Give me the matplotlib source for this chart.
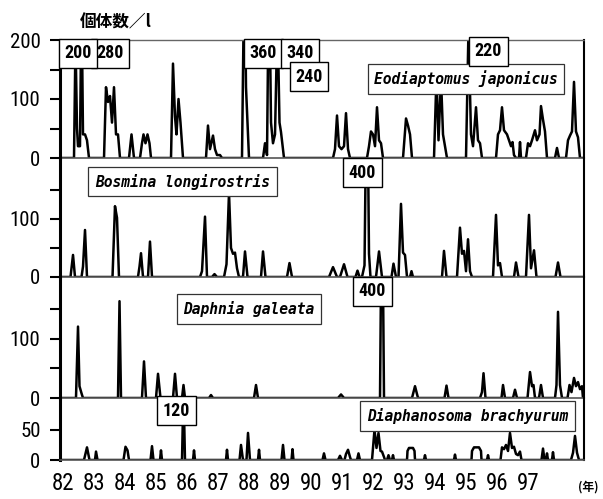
import matplotlib
matplotlib.use("Agg")
import matplotlib.pyplot as plt
import numpy as np
from matplotlib import font_manager
from matplotlib.font_manager import FontProperties

# ---------------------------------------------------------------------------
# Zooplankton densities (individuals per litre), Lake survey 1982-1998.
# Time is given in decimal years (82.5 = mid-1982).
# ---------------------------------------------------------------------------
eod_t = [82.0, 82.355, 82.403, 82.452, 82.484, 82.548, 82.597, 82.645, 82.710, 82.774, 82.839,
         83.323, 83.387, 83.452, 83.516, 83.581, 83.645, 83.710, 83.774, 83.839,
         84.129, 84.210, 84.290,
         84.484, 84.548, 84.597, 84.661, 84.726, 84.790, 84.839,
         85.484, 85.548, 85.613, 85.661, 85.726, 85.790, 85.871,
         86.613, 86.677, 86.742, 86.839, 86.903, 86.968, 87.065, 87.129,
         87.774, 87.855, 87.903, 87.952, 88.000,
         88.452, 88.516, 88.581, 88.645, 88.710, 88.774, 88.839, 88.919, 88.984, 89.032, 89.129,
         90.710, 90.774, 90.839, 90.903, 90.984, 91.065, 91.129, 91.194, 91.258,
         91.806, 91.871, 91.935, 92.000, 92.065, 92.129, 92.194, 92.258, 92.323,
         92.968, 93.065, 93.129, 93.194, 93.258,
         93.968, 94.048, 94.113, 94.194, 94.258, 94.323, 94.387,
         95.000, 95.081, 95.161, 95.226, 95.323, 95.387, 95.452, 95.516,
         95.968, 96.032, 96.097, 96.161, 96.226, 96.323, 96.387, 96.452, 96.500, 96.548, 96.613,
         96.710, 96.742, 96.774,
         96.935, 97.000, 97.065, 97.129, 97.226, 97.290, 97.371, 97.419, 97.484, 97.548, 97.613,
         97.871, 97.935, 98.000,
         98.226, 98.290, 98.355, 98.419, 98.484, 98.548, 98.613, 98.677, 98.80]
eod_n = [0, 0, 200, 50, 20, 20, 280, 40, 40, 30, 0,
         0, 120, 95, 105, 60, 120, 40, 40, 0,
         0, 40, 0,
         0, 25, 40, 25, 40, 25, 0,
         0, 160, 70, 40, 100, 60, 0,
         0, 55, 15, 38, 15, 5, 5, 0,
         0, 360, 120, 60, 0,
         0, 25, 5, 340, 60, 25, 40, 240, 60, 44, 0,
         0, 15, 72, 20, 15, 20, 76, 15, 0,
         0, 20, 45, 40, 20, 86, 30, 25, 0,
         0, 67, 55, 40, 0,
         0, 140, 30, 135, 40, 20, 0,
         0, 220, 40, 20, 86, 30, 25, 0,
         0, 40, 47, 86, 47, 40, 30, 20, 27, 5, 0,
         0, 27, 0,
         0, 25, 20, 30, 47, 30, 40, 88, 65, 45, 0,
         0, 17, 0,
         0, 30, 38, 45, 129, 45, 35, 0, 0]

bos_t = [82.0, 82.242, 82.323, 82.387, 82.597, 82.645, 82.710, 82.774,
         83.597, 83.677, 83.742, 83.806,
         84.419, 84.468, 84.516, 84.581, 84.742, 84.806, 84.871,
         86.419, 86.484, 86.581, 86.645, 86.806, 86.887, 86.968,
         87.194, 87.274, 87.355, 87.419, 87.484, 87.548, 87.613, 87.677,
         87.806, 87.871, 87.952, 88.387, 88.452, 88.532, 89.226, 89.306, 89.387,
         90.581, 90.710, 90.839, 90.935, 91.065, 91.177, 91.435, 91.500, 91.565,
         91.645, 91.726, 91.806, 91.871, 91.919,
         92.097, 92.194, 92.290, 92.597, 92.661, 92.742,
         92.823, 92.903, 92.968, 93.032, 93.097, 93.194, 93.242, 93.290,
         94.226, 94.290, 94.371,
         94.710, 94.806, 94.871, 94.935, 95.000, 95.065, 95.129, 95.194,
         95.871, 95.968, 96.032, 96.097, 96.161, 96.548, 96.613, 96.694,
         96.935, 97.032, 97.097, 97.194, 97.274, 97.887, 97.968, 98.048, 98.80]
bos_n = [0, 0, 38, 0, 0, 18, 81, 0,
         0, 122, 102, 0,
         0, 18, 41, 0, 0, 61, 0,
         0, 10, 104, 0, 0, 5, 0,
         0, 22, 145, 50, 40, 42, 15, 0,
         0, 44, 0, 0, 44, 0, 0, 24, 0,
         0, 17, 0, 0, 22, 0, 0, 11, 0,
         0, 20, 400, 40, 0,
         0, 44, 0, 0, 23, 0,
         0, 126, 42, 38, 0, 0, 10, 0,
         0, 45, 0,
         0, 85, 40, 45, 10, 65, 10, 0,
         0, 107, 20, 24, 0, 0, 25, 0,
         0, 107, 15, 46, 0, 0, 25, 0, 0]

dap_t = [82.0, 82.419, 82.484, 82.532, 82.597, 82.645,
         83.774, 83.823, 83.871, 84.548, 84.613, 84.677,
         85.000, 85.065, 85.145, 85.548, 85.613, 85.677, 85.839, 85.887, 85.935,
         86.710, 86.774, 86.839, 88.161, 88.226, 88.290, 90.871, 90.968, 91.065,
         92.226, 92.290, 92.355, 93.258, 93.355, 93.452, 94.306, 94.371, 94.435,
         95.452, 95.516, 95.565, 95.629, 96.145, 96.194, 96.258, 96.516, 96.581, 96.645,
         96.984, 97.065, 97.129, 97.177, 97.226, 97.355, 97.419, 97.484,
         97.871, 97.919, 97.968, 98.032, 98.097,
         98.274, 98.339, 98.403, 98.484, 98.548, 98.613, 98.677, 98.742, 98.774]
dap_n = [0, 0, 121, 20, 8, 0,
         0, 164, 0, 0, 62, 0,
         0, 41, 0, 0, 41, 0, 0, 22, 0,
         0, 5, 0, 0, 22, 0, 0, 6, 0,
         0, 400, 0, 0, 20, 0, 0, 21, 0,
         0, 10, 42, 0, 0, 22, 0, 0, 14, 0,
         0, 44, 20, 22, 0, 0, 22, 0,
         0, 22, 146, 22, 0,
         0, 22, 10, 34, 20, 27, 15, 20, 0]

dia_t = [82.0, 82.677, 82.774, 82.855, 83.032, 83.065, 83.113,
         83.952, 84.016, 84.081, 84.129, 84.823, 84.871, 84.919,
         85.129, 85.161, 85.194, 85.839, 85.887, 85.935, 86.194, 86.226, 86.258,
         87.258, 87.290, 87.323, 87.694, 87.742, 87.806, 87.919, 87.968, 88.032,
         88.290, 88.323, 88.355, 89.048, 89.097, 89.145, 89.371, 89.403, 89.435,
         90.371, 90.419, 90.468, 90.871, 90.935, 91.000,
         91.081, 91.129, 91.194, 91.258, 91.290, 91.484, 91.532, 91.581,
         91.968, 92.048, 92.113, 92.177, 92.242, 92.290, 92.355, 92.387,
         92.452, 92.500, 92.548, 92.613, 92.645, 92.677,
         93.097, 93.113, 93.161, 93.290, 93.339, 93.355, 93.645, 93.677, 93.710,
         94.613, 94.645, 94.677,
         95.177, 95.194, 95.258, 95.419, 95.484, 95.500, 95.677, 95.710, 95.742,
         96.113, 96.161, 96.226, 96.290, 96.355, 96.419, 96.484, 96.548, 96.613, 96.677,
         96.742, 96.790,
         97.435, 97.484, 97.532, 97.581, 97.613, 97.645, 97.774, 97.806, 97.839,
         98.387, 98.452, 98.516, 98.581, 98.645, 98.80]
dia_n = [0, 0, 21, 0, 0, 14, 0,
         0, 22, 16, 0, 0, 23, 0,
         0, 16, 0, 0, 120, 0, 0, 16, 0,
         0, 17, 0, 0, 25, 0, 0, 45, 0,
         0, 17, 0, 0, 25, 0, 0, 18, 0,
         0, 11, 0, 0, 7, 0,
         0, 10, 17, 5, 0, 0, 11, 0,
         0, 50, 20, 45, 15, 14, 5, 0,
         0, 8, 0, 0, 8, 0,
         0, 15, 20, 20, 15, 0, 0, 8, 0,
         0, 9, 0,
         0, 15, 21, 21, 15, 0, 0, 8, 0,
         0, 21, 18, 25, 15, 45, 20, 22, 10, 8,
         14, 0,
         0, 19, 0, 0, 11, 0, 0, 13, 0,
         0, 12, 40, 12, 0, 0]

species = ["Eodiaptomus japonicus", "Bosmina longirostris",
           "Daphnia galeata", "Diaphanosoma brachyurum"]
years = list(range(82, 98))
year_labels = ["82", "83", "84", "85", "86", "87", "88", "89",
               "90", "91", "92", "93", "94", "95", "96", "97"]

# times of off-scale peaks whose counts are written in boxes
eod_boxed = [82.597, 82.403, 87.855, 88.645, 88.919, 95.081]
bos_boxed = [91.806]
dap_boxed = [92.290]
dia_boxed = [85.887]


# ---------------------------------------------------------------------------
# fonts: a narrow sans for the numerals if one is installed
def _weight(w):
    if isinstance(w, (int, float)):
        return int(w)
    return {"bold": 700, "normal": 400, "regular": 400, "medium": 500,
            "semibold": 600, "light": 300, "heavy": 800, "black": 900}.get(str(w).lower(), 400)


def narrow_font(bold):
    order = ["Liberation Sans Narrow", "Roboto Condensed", "DejaVu Sans",
             "Noto Sans", "Open Sans", "Noto Sans Condensed", "Open Sans Condensed"]
    found = []
    for f in font_manager.fontManager.ttflist:
        st = str(f.stretch).lower()
        narrow = ("condensed" in st or "narrow" in f.name.lower()
                  or "condensed" in f.name.lower()
                  or "condensed" in f.fname.lower() or "narrow" in f.fname.lower())
        if not narrow or f.style != "normal":
            continue
        w = _weight(f.weight)
        if bold and w < 600:
            continue
        if not bold and not (350 <= w <= 500):
            continue
        rank = order.index(f.name) if f.name in order else len(order)
        found.append((rank, f.fname))
    if found:
        found.sort()
        return found[0][1]
    return None


NARROW_R = narrow_font(False)
NARROW_B = narrow_font(True) or NARROW_R
CJK = ["Noto Sans CJK JP", "DejaVu Sans"]
MONO = "DejaVu Sans Mono"


def numfont(size, bold=False):
    path = NARROW_B if bold else NARROW_R
    if path:
        return FontProperties(fname=path, size=size)
    # no narrow face available: plain sans, a little smaller
    return FontProperties(family="DejaVu Sans", size=size * 0.8,
                          weight="bold" if bold else "normal")


W, H = 603, 499
fig = plt.figure(figsize=(W / 100, H / 100), dpi=100)
fig.patch.set_facecolor("white")


def fx(px):
    return px / W


def fy(py):
    return 1 - py / H


X0, X1 = 60, 584
XLIM = (82 + (X0 - 63) / 31, 82 + (X1 - 63) / 31)

panels = [
    dict(t=eod_t, n=eod_n, top=40, bot=158, ylim=(0, 200), ticks=[0, 50, 100, 150, 200],
         labels=[0, 100, 200], name_c=(466, 79), boxed=eod_boxed,
         box_c=[(110, 53.5), (78, 53.5), (263.5, 53.5), (300, 53.5), (309, 76.5), (488.5, 51.5)]),
    dict(t=bos_t, n=bos_n, top=158, bot=277, ylim=(0, 205), ticks=[0, 50, 100, 150],
         labels=[0, 100], name_c=(182.5, 181.5), boxed=bos_boxed, box_c=[(362.5, 172.5)]),
    dict(t=dap_t, n=dap_n, top=277, bot=398, ylim=(0, 205), ticks=[0, 50, 100, 150],
         labels=[0, 100], name_c=(249, 309), boxed=dap_boxed, box_c=[(372.5, 291.5)]),
    dict(t=dia_t, n=dia_n, top=398, bot=460, ylim=(0, 103), ticks=[0, 50],
         labels=[0, 50], name_c=(467.5, 416), boxed=dia_boxed, box_c=[(176.5, 410.5)]),
]

ytick_fp = numfont(15)
xtick_fp = numfont(16.5)
box_fp = numfont(13, bold=True)

axes = []
for i, p in enumerate(panels):
    ax = fig.add_axes([fx(X0), fy(p["bot"]), fx(X1) - fx(X0), (p["bot"] - p["top"]) / H])
    ax.set_facecolor("none")
    ax.plot(p["t"], p["n"], color="black", lw=1.8, solid_joinstyle="round")
    ax.set_xlim(*XLIM)
    ax.set_ylim(*p["ylim"])
    ax.set_yticks(p["ticks"])
    ax.set_yticklabels([str(v) if v in p["labels"] else "" for v in p["ticks"]],
                       fontproperties=ytick_fp)
    ax.tick_params(axis="y", direction="out", length=7, width=1.5, pad=7, colors="black")
    for s in ax.spines.values():
        s.set_color("black")
    ax.spines["left"].set_linewidth(2.2)
    ax.spines["right"].set_linewidth(1.5)
    ax.spines["bottom"].set_linewidth(1.2)
    ax.spines["bottom"].set_color("#555555")
    if i == 0:
        ax.spines["top"].set_linewidth(1.0)
        ax.spines["top"].set_color("#666666")
        ax.spines["top"].set_linestyle((0, (1, 1)))
    else:
        ax.spines["top"].set_visible(False)
    if i < len(panels) - 1:
        ax.set_xticks([])
    else:
        ax.set_xticks(years)
        ax.set_xticklabels(year_labels, fontproperties=xtick_fp)
        ax.tick_params(axis="x", length=0, pad=9)
    axes.append(ax)

    # species name in a framed label
    cx, cy = p["name_c"]
    fig.text(fx(cx), fy(cy), species[i], ha="center", va="center",
             fontfamily=MONO, fontweight="bold", fontstyle="italic", fontsize=10.5,
             bbox=dict(boxstyle="square,pad=0.45", fc="white", ec="#333333", lw=0.9))

    # off-scale counts, boxed
    tarr = np.asarray(p["t"])
    for tb, (bx, by) in zip(p["boxed"], p["box_c"]):
        val = p["n"][int(np.argmin(np.abs(tarr - tb)))]
        fig.text(fx(bx), fy(by), f"{val}", ha="center", va="center",
                 fontproperties=box_fp,
                 bbox=dict(boxstyle="square,pad=0.3", fc="white", ec="black", lw=1.0))

fig.text(fx(80), fy(22), "個体数／l", ha="left", va="center",
         fontfamily=CJK, fontweight="bold", fontsize=12)
fig.text(fx(588), fy(487), "(年)", ha="center", va="center",
         fontfamily=CJK, fontweight="bold", fontsize=8.5)

fig.savefig("out.png", dpi=100, facecolor="white")
